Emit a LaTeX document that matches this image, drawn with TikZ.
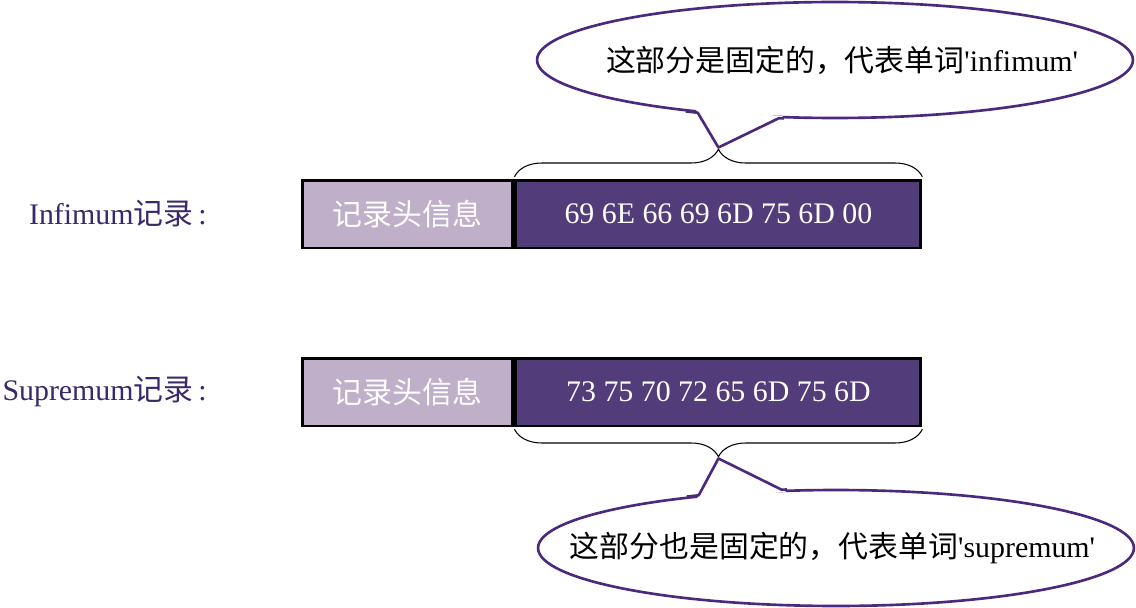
\documentclass[tikz,border=0pt]{standalone}
\usepackage{fontspec}
\setmainfont{Liberation Serif}[Ligatures=TeXOff]
\newfontfamily\cjk{Noto Sans CJK SC}
\usetikzlibrary{shapes.geometric,decorations.pathreplacing,calc}
\definecolor{hdrfill}{HTML}{BFAFC8}
\definecolor{hexfill}{HTML}{523C7A}
\definecolor{labelink}{HTML}{3A2868}
\definecolor{bubbleline}{HTML}{4B2A7E}

\begin{document}
\begin{tikzpicture}[x=0.02cm,y=-0.02cm,
  every node/.style={font=\fontsize{17}{20}\selectfont},
  hdr/.style={draw=black,line width=1.7pt,fill=hdrfill,text=white,minimum width=4.22cm,minimum height=1.36cm,inner sep=0pt},
  hex/.style={draw=black,line width=1.7pt,fill=hexfill,text=white,minimum width=8.1cm,minimum height=1.36cm,inner sep=0pt},
  reclabel/.style={text=labelink,anchor=east,inner sep=0pt},
  bubble/.style={ellipse,draw=bubbleline,line width=1.5pt,fill=white,minimum width=11.92cm,minimum height=2.32cm,inner sep=0pt},
  tail/.style={draw=bubbleline,line width=1.5pt,line join=round},
  notetext/.style={inner sep=0pt},
  brc/.style={decorate,decoration={brace,amplitude=0.55cm},line width=0.6pt}]
\useasboundingbox (0,0) rectangle (1136,608);

% infimum record
\node[reclabel] (inflabel) at (207,214) {Infimum{\cjk 记录}\,:};
\node[hdr] (infhdr) at (407.5,214) {\cjk 记录头信息};
\node[hex,anchor=west] (infhex) at (infhdr.east) {69 6E 66 69 6D 75 6D 00};
\draw[brc] ([yshift=1pt]infhex.north west) -- ([yshift=1pt]infhex.north east);
\coordinate (inftip) at ([yshift=0.55cm+2pt]infhex.north);
\node[bubble] (infnote) at (835,60) {};
\fill[white] ($(inftip)!1.12!(infnote.201)$) -- (inftip) -- ($(inftip)!1.07!(infnote.226)$) -- cycle;
\draw[tail] (infnote.199) -- (infnote.201) -- (inftip) -- (infnote.226) -- (infnote.229);
\node[notetext] (inftext) at ([xshift=4pt]infnote.center) {{\cjk 这部分是固定的，代表单词}'infimum'};

% supremum record
\node[reclabel] (suplabel) at (207,392) {Supremum{\cjk 记录}\,:};
\node[hdr] (suphdr) at (407.5,392) {\cjk 记录头信息};
\node[hex,anchor=west] (suphex) at (suphdr.east) {73 75 70 72 65 6D 75 6D};
\draw[brc] ([yshift=-1pt]suphex.south east) -- ([yshift=-1pt]suphex.south west);
\coordinate (suptip) at ([yshift=-0.55cm-2pt]suphex.south);
\node[bubble] (supnote) at (836,548) {};
\fill[white] ($(suptip)!1.12!(supnote.159)$) -- (suptip) -- ($(suptip)!1.07!(supnote.133)$) -- cycle;
\draw[tail] (supnote.161) -- (supnote.159) -- (suptip) -- (supnote.133) -- (supnote.130);
\node[notetext] (suptext) at ([xshift=-2pt]supnote.center) {{\cjk 这部分也是固定的，代表单词}'supremum'};
\end{tikzpicture}
\end{document}
